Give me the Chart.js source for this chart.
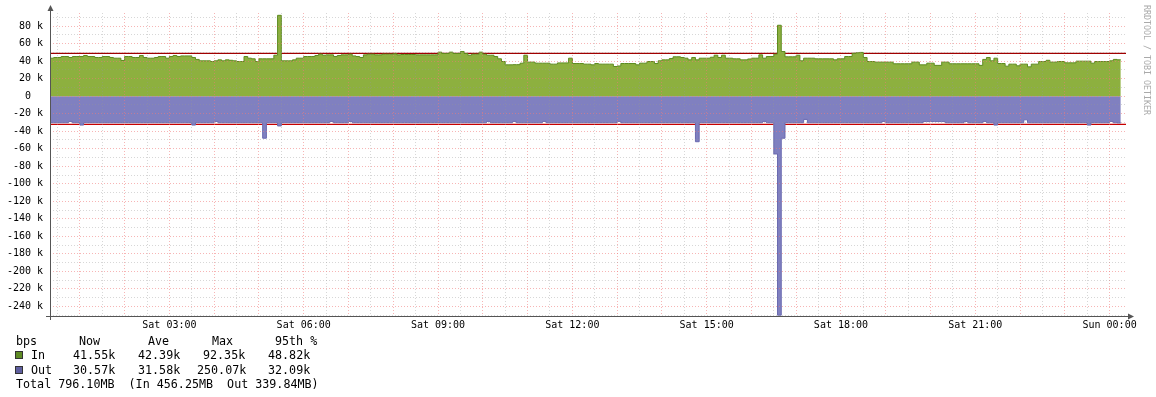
<!DOCTYPE html>
<html>
<head>
<meta charset="utf-8">
<script src="https://cdn.jsdelivr.net/npm/chart.js@4.4.1/dist/chart.umd.min.js"></script>
<style>
  html, body { margin: 0; padding: 0; background: #fff; }
  #wrap { position: relative; width: 1156px; height: 397px; overflow: hidden; font-family: "DejaVu Sans Mono", monospace; }
  #chart { position: absolute; left: 0; top: 0; }
  .lg { position: absolute; font-size: 11.7px; line-height: 14px; color: #000; white-space: pre; }
  .sw { position: absolute; width: 6px; height: 6px; border: 1px solid #333; }
  #wm { position: absolute; left: 1142px; top: 5px; writing-mode: vertical-rl; font-size: 8.3px; line-height: 9px; color: #aaa; white-space: pre; }
</style>
</head>
<body>
<div id="wrap">
  <canvas id="chart" width="1156" height="397"></canvas>
  <div id="wm">RRDTOOL / TOBI OETIKER</div>
</div>
<script>
// 5 minute samples, Sat 00:20 -> Sun 00:15 (kbps)
const startMinute = 20;
const stepMinutes = 5;

const inKbps = [
  43.4, 44.2, 44.2, 45.3, 45.3, 44.2, 45.3, 45.3, 45.3, 46.5,
  45.3, 45.3, 44.2, 44.2, 45.3, 45.3, 44.2, 43.4, 43.4, 40.8,
  45.3, 45.3, 44.2, 44.2, 46.5, 44.2, 43.4, 43.4, 44.2, 45.3,
  45.3, 43.4, 45.3, 46.5, 45.3, 46.0, 46.0, 46.0, 44.2, 42.0,
  40.4, 40.4, 40.4, 39.6, 40.4, 41.5, 40.4, 41.5, 41.0, 40.4,
  39.6, 39.6, 45.3, 43.4, 42.7, 39.6, 42.7, 42.7, 42.7, 42.7,
  46.8, 92.35, 40.4, 40.4, 40.4, 41.5, 43.4, 43.4, 45.3, 45.3,
  45.3, 46.5, 48.0, 46.8, 47.2, 47.2, 45.3, 46.5, 47.2, 47.2,
  48.0, 46.0, 45.3, 44.2, 47.2, 48.0, 48.0, 47.2, 47.2, 48.0,
  48.0, 48.0, 48.4, 47.2, 47.6, 47.6, 47.6, 47.6, 47.2, 47.2,
  47.2, 47.2, 47.2, 47.2, 50.3, 48.8, 48.8, 50.3, 48.8, 48.8,
  51.0, 48.8, 46.8, 48.0, 48.0, 50.3, 48.0, 46.8, 46.8, 45.3,
  42.7, 39.6, 35.8, 35.8, 36.0, 36.0, 37.7, 46.8, 38.9, 38.9,
  37.7, 37.7, 37.7, 37.7, 36.6, 36.6, 38.0, 38.0, 38.0, 43.4,
  37.3, 37.3, 37.3, 36.6, 36.6, 35.8, 37.3, 36.6, 36.6, 36.6,
  36.6, 33.9, 34.5, 37.3, 37.3, 37.3, 37.3, 35.8, 37.7, 37.7,
  39.6, 39.6, 37.3, 40.4, 41.5, 41.5, 43.0, 45.0, 45.0, 44.2,
  43.4, 41.5, 44.2, 41.5, 43.4, 43.4, 43.4, 44.5, 46.8, 44.2,
  46.8, 43.4, 43.4, 42.7, 42.7, 41.5, 41.5, 42.5, 43.4, 43.4,
  47.2, 43.4, 45.3, 45.3, 48.0, 81.0, 51.0, 45.0, 45.0, 45.0,
  46.8, 40.4, 43.4, 43.4, 43.4, 42.7, 42.7, 42.7, 42.7, 42.7,
  41.5, 42.7, 42.7, 45.3, 45.3, 49.0, 49.5, 50.0, 44.2, 39.6,
  39.6, 38.9, 38.9, 38.9, 38.9, 38.9, 37.0, 37.0, 37.0, 37.0,
  37.0, 38.9, 38.9, 35.8, 35.8, 37.7, 37.7, 35.2, 35.2, 38.9,
  38.9, 37.0, 37.0, 37.0, 37.0, 37.0, 37.0, 37.0, 37.0, 35.2,
  42.0, 44.2, 40.4, 43.4, 37.3, 37.3, 34.3, 36.6, 36.6, 34.7,
  36.6, 36.6, 33.5, 36.6, 36.6, 39.6, 39.6, 41.0, 38.9, 38.9,
  39.6, 39.6, 38.1, 38.1, 38.1, 40.0, 40.0, 40.0, 40.0, 37.7,
  39.6, 39.6, 39.6, 39.6, 40.4, 42.0, 41.55
];

const outKbps = [
  -30.3, -30.3, -30.3, -30.3, -30.3, -28.8, -30.3, -30.3, -33.0, -30.3,
  -30.3, -30.3, -30.3, -30.3, -30.3, -30.3, -30.3, -30.3, -30.3, -30.3,
  -30.3, -30.3, -30.3, -30.3, -30.3, -30.3, -30.3, -30.3, -30.3, -30.3,
  -30.3, -30.3, -30.3, -30.3, -30.3, -30.3, -30.3, -30.3, -33.0, -30.3,
  -30.3, -30.3, -30.3, -30.3, -28.8, -30.3, -30.3, -30.3, -30.3, -30.3,
  -30.3, -30.3, -30.3, -30.3, -30.3, -30.3, -30.3, -48.0, -30.3, -30.3,
  -30.3, -34.0, -30.3, -30.3, -30.3, -30.3, -30.3, -30.3, -30.3, -30.3,
  -30.3, -30.3, -30.3, -30.3, -30.3, -28.8, -30.3, -30.3, -30.3, -30.3,
  -28.8, -30.3, -30.3, -30.3, -30.3, -30.3, -30.3, -30.3, -30.3, -30.3,
  -30.3, -30.3, -30.3, -30.3, -30.3, -30.3, -30.3, -30.3, -30.3, -30.3,
  -30.3, -30.3, -30.3, -30.3, -30.3, -30.3, -30.3, -30.3, -30.3, -30.3,
  -30.3, -30.3, -30.3, -30.3, -30.3, -30.3, -30.3, -28.8, -30.3, -30.3,
  -30.3, -30.3, -30.3, -30.3, -28.8, -30.3, -30.3, -30.3, -30.3, -30.3,
  -30.3, -30.3, -28.8, -30.3, -30.3, -30.3, -30.3, -30.3, -30.3, -30.3,
  -30.3, -30.3, -30.3, -30.3, -30.3, -30.3, -30.3, -30.3, -30.3, -30.3,
  -30.3, -30.3, -28.8, -30.3, -30.3, -30.3, -30.3, -30.3, -30.3, -30.3,
  -30.3, -30.3, -30.3, -30.3, -30.3, -30.3, -30.3, -30.3, -30.3, -30.3,
  -30.3, -30.3, -30.3, -52.0, -30.3, -30.3, -30.3, -30.3, -30.3, -30.3,
  -30.3, -30.3, -30.3, -30.3, -30.3, -30.3, -30.3, -30.3, -30.3, -30.3,
  -30.3, -28.8, -30.3, -30.3, -66.0, -250.07, -48.0, -30.3, -30.3, -30.3,
  -30.3, -30.3, -26.5, -30.3, -30.3, -30.3, -30.3, -30.3, -30.3, -30.3,
  -30.3, -30.3, -30.3, -30.3, -30.3, -30.3, -30.3, -30.3, -30.3, -30.3,
  -30.3, -30.3, -30.3, -28.8, -30.3, -30.3, -30.3, -30.3, -30.3, -30.3,
  -30.3, -30.3, -30.3, -30.3, -29.0, -29.0, -29.0, -29.0, -29.0, -29.0,
  -30.3, -30.3, -30.3, -30.3, -30.3, -28.8, -30.3, -30.3, -30.3, -30.3,
  -28.8, -30.3, -30.3, -33.0, -30.3, -30.3, -30.3, -30.3, -30.3, -30.3,
  -30.3, -27.0, -30.3, -30.3, -30.3, -30.3, -30.3, -30.3, -30.3, -30.3,
  -30.3, -30.3, -30.3, -30.3, -30.3, -30.3, -30.3, -30.3, -33.0, -30.3,
  -30.3, -30.3, -30.3, -30.3, -28.8, -30.3, -30.57
];

const in95 = 48.82;
const out95 = -32.09;

const timeLabels = ['Sat 03:00', 'Sat 06:00', 'Sat 09:00', 'Sat 12:00',
                    'Sat 15:00', 'Sat 18:00', 'Sat 21:00', 'Sun 00:00'];

const legendHead = ['bps', 'Now', 'Ave', 'Max', '95th %'];
const inStats = ['In', '41.55k', '42.39k', '92.35k', '48.82k'];
const outStats = ['Out', '30.57k', '31.58k', '250.07k', '32.09k'];
const totalLine = 'Total 796.10MB  (In 456.25MB  Out 339.84MB)';

// legend layout
const headX = [16, 79, 148, 212, 275];
const inX = [31, 73, 138, 203, 268];
const outX = [31, 73, 138, 197, 268];

const wrap = document.getElementById('wrap');
function addText(txt, x, y) {
  const d = document.createElement('div');
  d.className = 'lg';
  d.style.left = x + 'px';
  d.style.top = y + 'px';
  d.textContent = txt;
  wrap.appendChild(d);
}
function addSwatch(color, x, y) {
  const d = document.createElement('div');
  d.className = 'sw';
  d.style.left = x + 'px';
  d.style.top = y + 'px';
  d.style.background = color;
  wrap.appendChild(d);
}
legendHead.forEach((t, i) => addText(t, headX[i], 334));
inStats.forEach((t, i) => addText(t, inX[i], 348));
outStats.forEach((t, i) => addText(t, outX[i], 363));
addText(totalLine, 16, 376.5);
addSwatch('#5f8b25', 15, 351);
addSwatch('#5f5f9f', 15, 366);

function toPoints(vals) {
  const pts = vals.map((v, i) => ({ x: startMinute + i * stepMinutes, y: v }));
  pts.push({ x: startMinute + vals.length * stepMinutes, y: vals[vals.length - 1] });
  return pts;
}

const xMin = 20, xMax = 1462;

const axisArrows = {
  id: 'axisArrows',
  afterDraw(chart) {
    const { ctx, chartArea: a } = chart;
    ctx.save();
    ctx.strokeStyle = '#555';
    ctx.fillStyle = '#555';
    ctx.lineWidth = 1;
    ctx.beginPath();
    ctx.moveTo(a.left - 4, a.bottom + 0.5);
    ctx.lineTo(a.right + 3, a.bottom + 0.5);
    ctx.moveTo(a.left + 0.5, a.bottom + 4);
    ctx.lineTo(a.left + 0.5, a.top - 3);
    ctx.stroke();
    ctx.beginPath();
    ctx.moveTo(a.right + 8, a.bottom + 0.5);
    ctx.lineTo(a.right + 2, a.bottom - 2.5);
    ctx.lineTo(a.right + 2, a.bottom + 3.5);
    ctx.closePath();
    ctx.fill();
    ctx.beginPath();
    ctx.moveTo(a.left + 0.5, a.top - 8);
    ctx.lineTo(a.left - 2.5, a.top - 2);
    ctx.lineTo(a.left + 3.5, a.top - 2);
    ctx.closePath();
    ctx.fill();
    ctx.restore();
  }
};

const tickFont = { family: 'DejaVu Sans Mono', size: 10 };

new Chart(document.getElementById('chart'), {
  type: 'line',
  data: {
    datasets: [
      {
        label: 'In',
        data: toPoints(inKbps),
        stepped: 'before',
        fill: 'origin',
        backgroundColor: '#8db03f',
        borderColor: '#5e8b20',
        borderWidth: 1,
        pointRadius: 0
      },
      {
        label: 'Out',
        data: toPoints(outKbps),
        stepped: 'before',
        fill: 'origin',
        backgroundColor: '#8080c0',
        borderColor: '#6a6ab0',
        borderWidth: 1,
        pointRadius: 0
      },
      {
        label: '95th In',
        data: [{ x: xMin, y: in95 }, { x: xMax, y: in95 }],
        borderColor: '#a00000',
        borderWidth: 1.3,
        pointRadius: 0,
        fill: false
      },
      {
        label: '95th Out',
        data: [{ x: xMin, y: out95 }, { x: xMax, y: out95 }],
        borderColor: '#c80000',
        borderWidth: 1.3,
        pointRadius: 0,
        fill: false
      }
    ]
  },
  options: {
    responsive: false,
    animation: false,
    devicePixelRatio: 1,
    layout: { padding: { left: 0, right: 30, top: 13, bottom: 0 } },
    plugins: { legend: { display: false }, tooltip: { enabled: false } },
    scales: {
      x: {
        type: 'linear',
        min: xMin,
        max: xMax,
        afterBuildTicks(scale) {
          const t = [];
          for (let m = 30; m <= 1440; m += 30) t.push({ value: m });
          scale.ticks = t;
        },
        afterFit(scale) { scale.height = 81; },
        grid: {
          z: 1,
          drawTicks: false,
          lineWidth: 1,
          color: (c) => (c.tick && c.tick.value % 60 === 0) ? 'rgba(240,120,120,0.55)' : 'rgba(150,150,150,0.38)'
        },
        border: { display: false, dash: [1, 2] },
        ticks: {
          autoSkip: false,
          maxRotation: 0,
          padding: 3,
          color: '#000',
          font: tickFont,
          callback: (v) => (v % 180 === 0 ? timeLabels[v / 180 - 1] : '')
        }
      },
      y: {
        type: 'linear',
        min: -251,
        max: 95,
        afterBuildTicks(scale) {
          const t = [];
          for (let v = -250; v <= 90; v += 10) t.push({ value: v });
          scale.ticks = t;
        },
        afterFit(scale) { scale.width = 50; },
        grid: {
          z: 1,
          drawTicks: false,
          lineWidth: 1,
          color: (c) => (c.tick && c.tick.value % 20 === 0) ? 'rgba(240,120,120,0.55)' : 'rgba(150,150,150,0.38)'
        },
        border: { display: false, dash: [1, 2] },
        ticks: {
          autoSkip: false,
          padding: 7,
          color: '#000',
          font: tickFont,
          // zero has no unit suffix; trailing spaces keep its digit in the units column
          callback: (v) => (v % 20 === 0 ? (v === 0 ? '0  ' : v + ' k') : '')
        }
      }
    }
  },
  plugins: [axisArrows]
});
</script>
</body>
</html>
